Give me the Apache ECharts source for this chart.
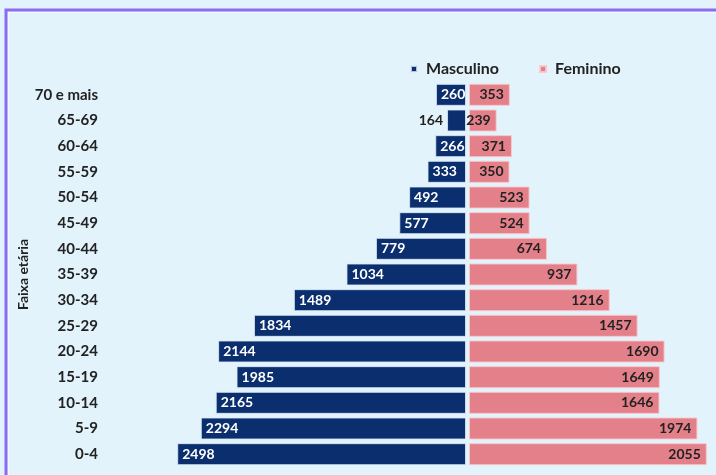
<!DOCTYPE html>
<html>
<head>
<meta charset="utf-8">
<script src="https://cdn.jsdelivr.net/npm/echarts@6/dist/echarts.min.js"></script>
<style>
html,body{margin:0;padding:0;background:#e2f3fb;}
#c{width:716px;height:475px;}
</style>
</head>
<body>
<div id="c"></div>
<script>
const categories = ['70 e mais','65-69','60-64','55-59','50-54','45-49','40-44','35-39','30-34','25-29','20-24','15-19','10-14','5-9','0-4'];
const masculino = [260,164,266,333,492,577,779,1034,1489,1834,2144,1985,2165,2294,2498];
const feminino = [353,239,371,350,523,524,674,937,1216,1457,1690,1649,1646,1974,2055];

const FONT = 'Lato';
const chart = echarts.init(document.getElementById('c'));

const maleData = masculino.map(v => {
  if (v < 200) {
    return {value: v, label: {position: 'left', color: '#222', distance: 4}};
  }
  return v;
});

chart.setOption({
  backgroundColor: '#e2f3fb',
  animation: false,
  textStyle: {fontFamily: FONT},
  graphic: [
    {type: 'rect', shape: {x: 6, y: 10, width: 760, height: 520},
     style: {fill: 'none', stroke: '#8a6cf3', lineWidth: 3}, z: 100},
    {type: 'rect', shape: {x: 8.5, y: 12.5, width: 760, height: 520},
     style: {fill: 'none', stroke: 'rgba(255,255,255,0.55)', lineWidth: 1}, z: 100}
  ],
  legend: {
    data: ['Masculino', 'Feminino'],
    left: 405, top: 56,
    icon: 'rect', itemWidth: 6, itemHeight: 6, itemGap: 40,
    textStyle: {fontFamily: FONT, fontWeight: 'bold', fontSize: 16, color: '#222', padding: [0,0,0,4]}
  },
  grid: [
    {left: 177, width: 289, top: 82, height: 385},
    {left: 469, width: 243, top: 82, height: 385}
  ],
  xAxis: [
    {type: 'value', gridIndex: 0, min: 0, max: 2500, inverse: true, show: false},
    {type: 'value', gridIndex: 1, min: 0, max: 2100, show: false}
  ],
  yAxis: [
    {type: 'category', gridIndex: 0, data: categories, inverse: true,
     axisLine: {show: false}, axisTick: {show: false},
     axisLabel: {margin: 79, fontFamily: FONT, fontWeight: 'bold', fontSize: 15, color: '#222'},
     name: 'Faixa etária', nameLocation: 'middle', nameRotate: 90, nameGap: 146,
     nameTextStyle: {fontFamily: FONT, fontWeight: 'bold', fontSize: 14, color: '#222'}},
    {type: 'category', gridIndex: 1, data: categories, inverse: true, show: false}
  ],
  series: [
    {name: 'Masculino', type: 'bar', xAxisIndex: 0, yAxisIndex: 0, data: maleData,
     barWidth: 22,
     itemStyle: {color: '#0b2f6e', borderColor: 'rgba(220,235,250,0.8)', borderWidth: 1},
     label: {show: true, position: 'insideLeft', distance: 5, color: '#fff',
             fontFamily: FONT, fontWeight: 'bold', fontSize: 14}},
    {name: 'Feminino', type: 'bar', xAxisIndex: 1, yAxisIndex: 1, data: feminino,
     barWidth: 22,
     itemStyle: {color: '#e4808a', borderColor: 'rgba(250,200,205,0.9)', borderWidth: 1},
     label: {show: true, position: 'insideRight', distance: 6, color: '#222',
             fontFamily: FONT, fontWeight: 'bold', fontSize: 14}}
  ]
});
</script>
</body>
</html>
